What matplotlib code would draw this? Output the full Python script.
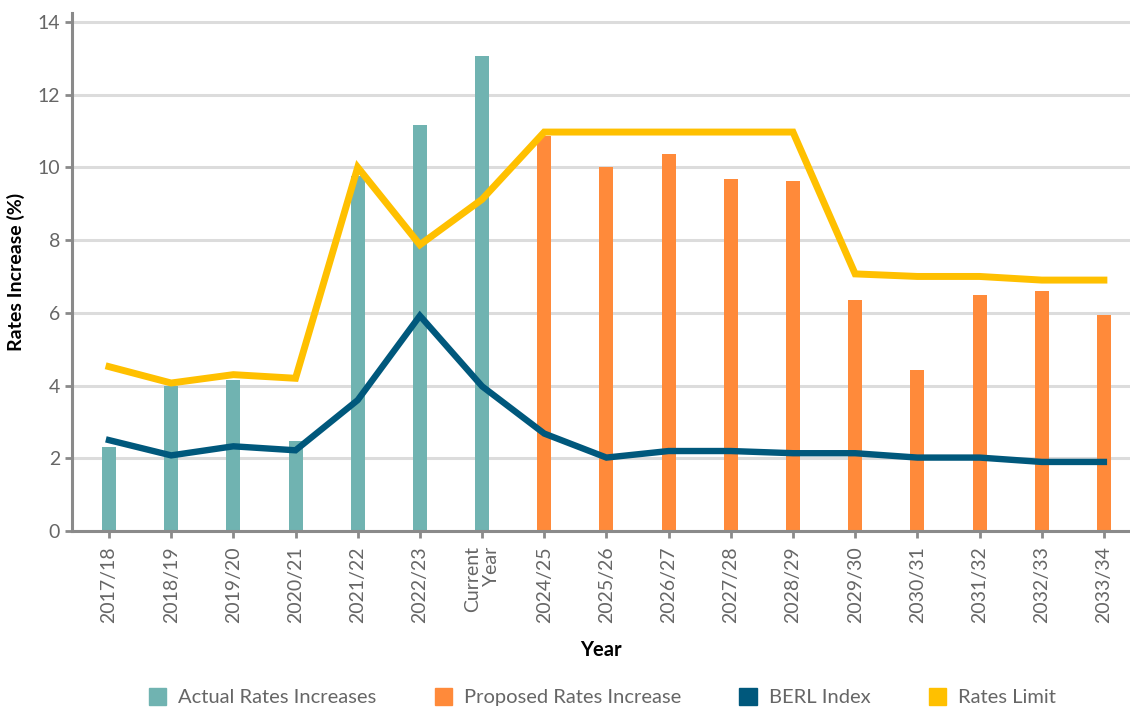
import matplotlib
matplotlib.use("Agg")
import matplotlib.pyplot as plt
from matplotlib.patches import Patch

plt.rcParams['font.family'] = ['Lato', 'DejaVu Sans']

# kategoriler ve seriler
years = ["2017/18", "2018/19", "2019/20", "2020/21", "2021/22", "2022/23",
         "Current\nYear", "2024/25", "2025/26", "2026/27", "2027/28", "2028/29",
         "2029/30", "2030/31", "2031/32", "2032/33", "2033/34"]
actual = [2.3, 4.0, 4.15, 2.47, 9.75, 11.16, 13.07]
proposed = [10.85, 10.0, 10.37, 9.68, 9.63, 6.36, 4.44, 6.48, 6.6, 5.93]
berl = [2.5, 2.08, 2.33, 2.22, 3.6, 5.92, 3.98, 2.68, 2.02, 2.2, 2.2,
        2.14, 2.14, 2.02, 2.02, 1.9, 1.9]
limit = [4.52, 4.07, 4.3, 4.2, 10.0, 7.87, 9.12, 10.97, 10.97, 10.97, 10.97,
         10.97, 7.07, 7.0, 7.0, 6.9, 6.9]

teal = "#70b3b1"
orange = "#ff8a3a"
navy = "#00587c"
yellow = "#ffc000"
grey = "#8a8a8a"

fig = plt.figure(figsize=(11.3, 7.09), dpi=100)
ax = fig.add_axes([0.0637, 0.251, 0.9363, 0.731])

x = list(range(len(years)))
n_act = len(actual)

ax.bar(x[:n_act], actual, width=0.225, color=teal, zorder=2)
ax.bar(x[n_act:], proposed, width=0.225, color=orange, zorder=2)
ax.plot(x, berl, color=navy, lw=4.6, zorder=3, solid_joinstyle='miter')
ax.plot(x, limit, color=yellow, lw=5, zorder=4, solid_joinstyle='miter')

ax.set_ylim(0, 14.25)
ax.set_xlim(-0.595, 16.42)
ax.set_yticks(range(0, 15, 2))
ax.set_xticks(x)
ax.set_xticklabels(years, rotation=90, multialignment='right')

ax.grid(axis='y', color="#dcdcdc", lw=2.2, zorder=0)
ax.set_axisbelow(True)
for s in ['top', 'right']:
    ax.spines[s].set_visible(False)
for s in ['left', 'bottom']:
    ax.spines[s].set_color(grey)
    ax.spines[s].set_linewidth(2.2)
ax.tick_params(colors=grey, width=2, length=5, labelsize=14, labelcolor="#666666")
ax.tick_params(axis='x', pad=6)

ax.set_ylabel("Rates Increase (%)", fontsize=14, fontweight='bold', labelpad=9)
ax.set_xlabel("Year", fontsize=14.5, fontweight='bold', labelpad=12)

handles = [Patch(color=teal), Patch(color=orange), Patch(color=navy), Patch(color=yellow)]
labels = ["Actual Rates Increases", "Proposed Rates Increase", "BERL Index", "Rates Limit"]
fig.legend(handles, labels, loc='lower center', bbox_to_anchor=(0.533, -0.022), ncol=4,
           frameon=False, fontsize=14.5, labelcolor="#666666", handlelength=0.85,
           handleheight=0.85, columnspacing=2.9, handletextpad=0.6)

fig.savefig("out.png", dpi=100)
